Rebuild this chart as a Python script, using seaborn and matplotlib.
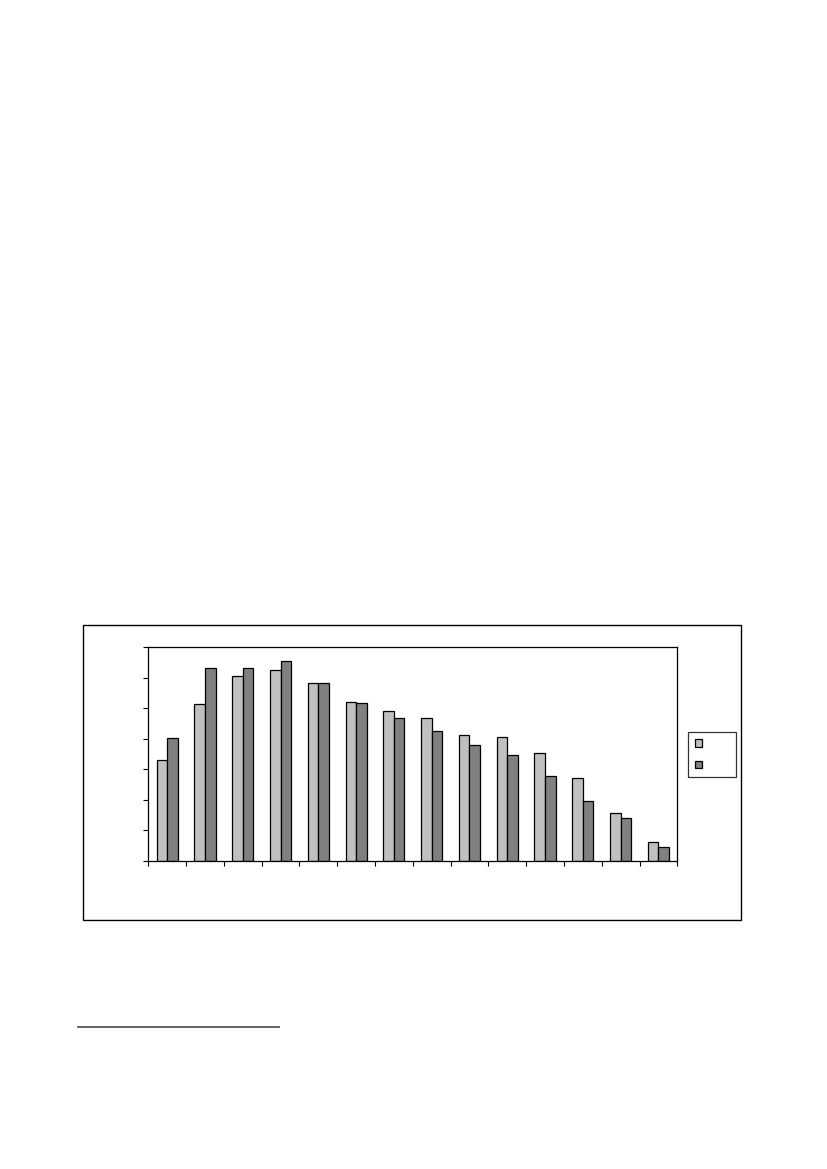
import numpy as np
import pandas as pd
import seaborn as sns
import matplotlib
matplotlib.use('Agg')
import matplotlib.pyplot as plt
import matplotlib.patches as mpatches
from matplotlib.lines import Line2D

# values, in units of one y tick interval
groups = [str(i) for i in range(1, 15)]
light = [3.29, 5.13, 6.05, 6.25, 5.82, 5.20, 4.90, 4.67, 4.11, 4.05, 3.52, 2.70, 1.55, 0.60]
dark = [4.02, 6.31, 6.31, 6.54, 5.82, 5.16, 4.67, 4.25, 3.79, 3.46, 2.77, 1.95, 1.39, 0.44]
series = ['a', 'b']
colors = ['#C0C0C0', '#808080']

df = pd.DataFrame({
    'group': groups * 2,
    'value': light + dark,
    'series': [series[0]] * len(groups) + [series[1]] * len(groups),
})

W, H = 827, 1169
fig = plt.figure(figsize=(W / 100, H / 100), dpi=100)
fig.patch.set_facecolor('white')

# outer chart frame
fig.add_artist(mpatches.Rectangle((83 / W, 1 - 920 / H), (741 - 83) / W, (920 - 625) / H,
                                  transform=fig.transFigure, fill=False,
                                  edgecolor='black', lw=1.0))
# footnote rule
fig.add_artist(Line2D([78 / W, 279 / W], [1 - 1027 / H] * 2, transform=fig.transFigure,
                      color='#555555', lw=1.3))

ax = fig.add_axes([148.3 / W, 1 - 860.7 / H, (677.3 - 148.3) / W, (860.7 - 647.3) / H])
sns.barplot(data=df, x='group', y='value', hue='series', palette=colors,
            width=0.56, edgecolor='black', linewidth=0.9, legend=False, ax=ax)

ax.set_xlim(-0.5, len(groups) - 0.5)
ax.set_ylim(0, 7)
ax.set_xticks(np.arange(-0.5, len(groups), 1))
ax.set_xticklabels([])
ax.set_yticks(range(8))
ax.set_yticklabels([])
ax.set_xlabel('')
ax.set_ylabel('')
ax.tick_params(direction='out', length=3.6, width=0.8, color='black')
for s in ax.spines.values():
    s.set_linewidth(0.9)
    s.set_color('black')

handles = [mpatches.Patch(facecolor=c, edgecolor='black', lw=0.9) for c in colors]
leg = fig.legend(handles, ['', ''], loc='upper left',
                 bbox_to_anchor=(688.3 / W, 1 - 732.3 / H, 48 / W, 0),
                 bbox_transform=fig.transFigure, mode='expand',
                 fontsize=8, handlelength=0.63, handleheight=0.63,
                 borderpad=0.6, labelspacing=1.05, borderaxespad=0,
                 fancybox=False, frameon=True)
leg.get_frame().set_edgecolor('black')
leg.get_frame().set_linewidth(0.9)

fig.savefig('out.png', dpi=100)
